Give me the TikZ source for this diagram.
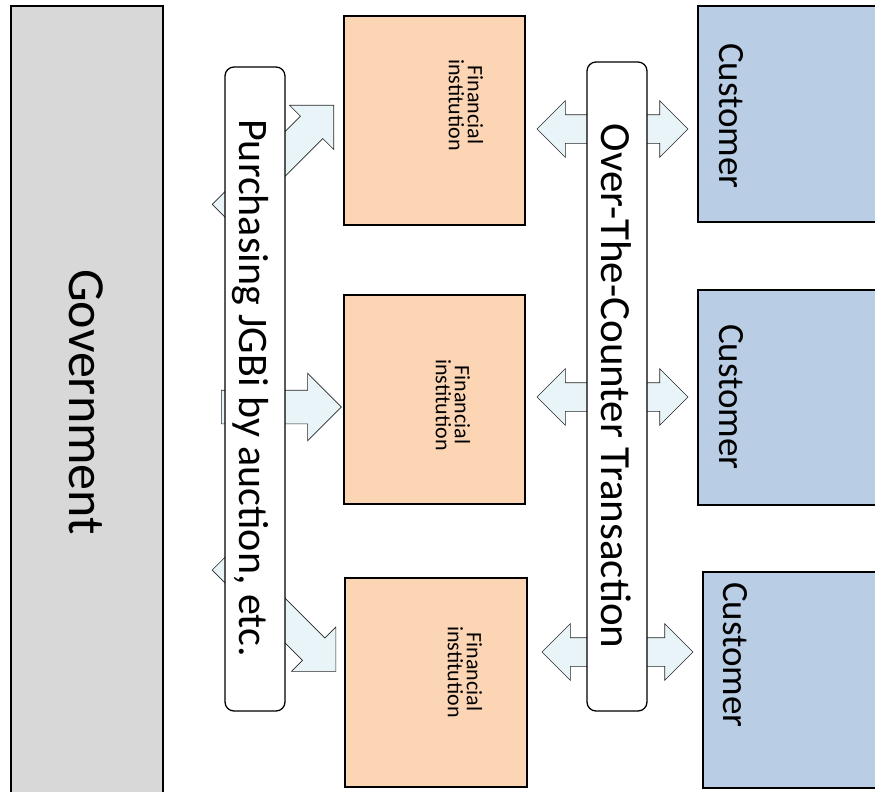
\documentclass[tikz,border=0pt]{standalone}
\usepackage{fontspec}
\setmainfont{Carlito}
\usetikzlibrary{shapes.arrows}
\definecolor{govgrey}{RGB}{216,216,216}
\definecolor{finorange}{RGB}{252,213,180}
\definecolor{custblue}{RGB}{185,205,229}
\definecolor{arrowcyan}{RGB}{232,244,247}

\begin{document}
\begin{tikzpicture}[x=1pt,y=-1pt,
    box/.style={draw,line width=1.8pt,inner sep=0pt},
    lbl/.style={draw,fill=white,rounded corners=9pt,line width=1.3pt,inner sep=0pt},
    fat/.style={single arrow,draw=black!85,fill=arrowcyan,line width=0.6pt,
                single arrow tip angle=90,inner xsep=0pt,inner ysep=15.5pt,
                single arrow head extend=15.5pt},
    twin/.style={double arrow,draw=black!85,fill=arrowcyan,line width=0.6pt,
                 double arrow tip angle=90,inner xsep=0pt,inner ysep=14pt,
                 minimum height=151pt,double arrow head extend=14pt}]
    \useasboundingbox (0,0) rectangle (875,792);

    % government -> financial institutions
    \node (buy1) [fat,rotate=45,minimum height=156pt] at (273,166) {};
    \node (buy2) [fat,minimum height=120pt,inner ysep=16.5pt,single arrow head extend=17pt] at (273,407) {};
    \node (buy3) [fat,rotate=-45,minimum height=159pt] at (274,609.5) {};

    % over-the-counter
    \node (otc1) [twin] at (612.5,129) {};
    \node (otc2) [twin] at (612.5,397) {};
    \node (otc3) [twin] at (617.5,652) {};

    \node (gov) [box,fill=govgrey,minimum width=152pt,minimum height=790pt] at (87,401) {};
    \node (fin1) [box,fill=finorange,minimum width=181pt,minimum height=209pt] at (434.5,120.5) {};
    \node (fin2) [box,fill=finorange,minimum width=181pt,minimum height=209pt] at (434.5,399.5) {};
    \node (fin3) [box,fill=finorange,minimum width=182pt,minimum height=209pt] at (436,682.5) {};
    \node (cust1) [box,fill=custblue,minimum width=184pt,minimum height=216pt] at (790,114) {};
    \node (cust2) [box,fill=custblue,minimum width=184pt,minimum height=215pt] at (790,397.5) {};
    \node (cust3) [box,fill=custblue,minimum width=179pt,minimum height=216pt] at (792.5,680) {};

    \node (buy) [lbl,minimum width=60pt,minimum height=644pt] at (255,389) {};
    \node (otc) [lbl,minimum width=60pt,minimum height=649pt] at (617,386.5) {};

    % texts
    \node (govtxt) [rotate=-90] at (86,402) {\fontsize{52}{52}\selectfont Government};
    \node (buytxt) [rotate=-90] at (250,388) {\fontsize{42}{42}\selectfont Purchasing JGBi by auction, etc.};
    \node (otctxt) [rotate=-90] at (616,386) {\fontsize{43}{43}\selectfont Over-The-Counter Transaction};
    \node (fin1txt) [rotate=-90,align=center,font=\fontsize{22}{19}\selectfont] at (466,105) {Financial\\institution};
    \node (fin2txt) [rotate=-90,align=center,font=\fontsize{22}{19}\selectfont] at (453,405) {Financial\\institution};
    \node (fin3txt) [rotate=-90,align=center,font=\fontsize{22}{19}\selectfont] at (465,672) {Financial\\institution};
    \node (cust1txt) [rotate=-90] at (731,116) {\fontsize{37}{37}\selectfont Customer};
    \node (cust2txt) [rotate=-90] at (731,397) {\fontsize{37}{37}\selectfont Customer};
    \node (cust3txt) [rotate=-90] at (735,655) {\fontsize{37}{37}\selectfont Customer};
\end{tikzpicture}
\end{document}
